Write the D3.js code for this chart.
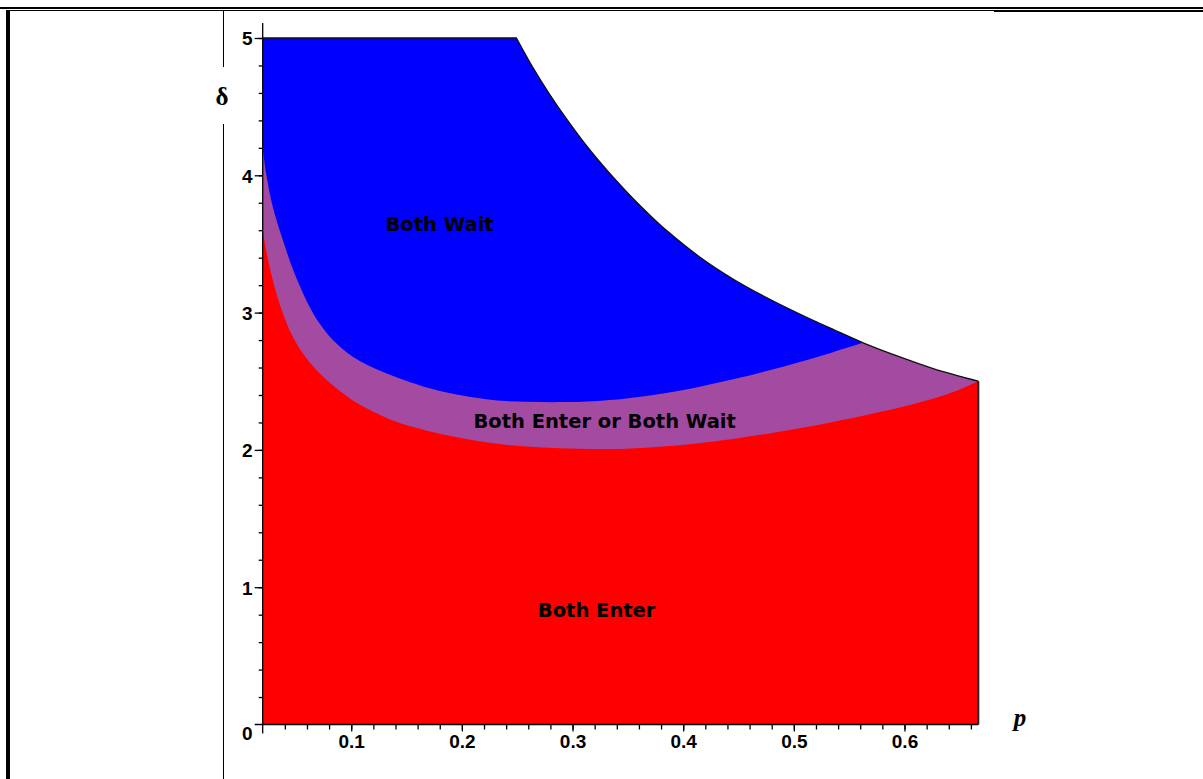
<!DOCTYPE html>
<html>
<head>
<meta charset="utf-8">
<script src="https://cdn.jsdelivr.net/npm/d3@7"></script>
<style>
  body { margin: 0; background: #fff; }
  svg { display: block; }
</style>
</head>
<body>
<div id="chart"></div>
<script>
// Region plot: equilibrium regions in (p, delta)

// Data
// upper edge of the feasible region (flat at 5, then falling)
var topP     = [0.02, 0.2493, 0.2642, 0.2793, 0.2944, 0.3094, 0.3245, 0.3396, 0.3546, 0.3697, 0.3848, 0.4149, 0.4450, 0.4752, 0.5053, 0.5354, 0.5626, 0.5958, 0.6259, 0.6667];
var topDelta = [5, 5, 4.785, 4.59, 4.412, 4.249, 4.099, 3.96, 3.831, 3.711, 3.599, 3.405, 3.245, 3.11, 2.99, 2.878, 2.78, 2.677, 2.592, 2.5];

// lower edge of "Both Wait" (meets the upper edge at p ~ 0.5626)
var waitP     = [0.02, 0.0231, 0.0291, 0.0382, 0.0487, 0.0623, 0.0713, 0.0834, 0.1014, 0.1316, 0.1768, 0.2280, 0.2582, 0.2883, 0.3185, 0.3486, 0.3848, 0.4149, 0.4450, 0.4752, 0.5053, 0.5354, 0.5626];
var waitDelta = [4.2, 4.014, 3.771, 3.529, 3.286, 3.043, 2.922, 2.800, 2.679, 2.558, 2.436, 2.363, 2.351, 2.348, 2.355, 2.375, 2.415, 2.46, 2.514, 2.574, 2.64, 2.712, 2.78];

// upper edge of "Both Enter"
var enterP     = [0.02, 0.0231, 0.0291, 0.0352, 0.0442, 0.0562, 0.0713, 0.0924, 0.1075, 0.1376, 0.1678, 0.1979, 0.2280, 0.2582, 0.2883, 0.3185, 0.3486, 0.3848, 0.4450, 0.5053, 0.5656, 0.6109, 0.6410, 0.6667];
var enterDelta = [3.614, 3.456, 3.237, 3.068, 2.873, 2.704, 2.558, 2.412, 2.33, 2.214, 2.142, 2.088, 2.048, 2.024, 2.012, 2.006, 2.009, 2.026, 2.08, 2.157, 2.254, 2.339, 2.412, 2.5];

// region labels
var regionNames = ["Both Wait", "Both Enter or Both Wait", "Both Enter"];
var regionP     = [0.1798, 0.329, 0.3218];
var regionDelta = [3.645, 2.21, 0.834];

// tick labels
var xTickVals = [0.1, 0.2, 0.3, 0.4, 0.5, 0.6];
var yTickVals = [1, 2, 3, 4, 5];
var pMin = 0.02, pMax = 0.6667;

var width = 1203, height = 779;
var tickFont = 'bold 19px "Liberation Sans", Arial, sans-serif';

var svg = d3.select('#chart')
  .append('svg')
  .attr('width', width)
  .attr('height', height);

// Table-like frame around the plot
svg.append('rect').attr('x', 0).attr('y', 7).attr('width', width).attr('height', 2).attr('fill', '#000');
svg.append('rect').attr('x', 6).attr('y', 10).attr('width', 988).attr('height', 1).attr('fill', '#000');
svg.append('rect').attr('x', 994).attr('y', 10).attr('width', width - 994).attr('height', 2).attr('fill', '#000');
svg.append('rect').attr('x', 6).attr('y', 10).attr('width', 4).attr('height', height - 10).attr('fill', '#000');
svg.append('rect').attr('x', 223).attr('y', 11).attr('width', 1).attr('height', 56).attr('fill', '#000');
svg.append('rect').attr('x', 223).attr('y', 124).attr('width', 1).attr('height', height - 124).attr('fill', '#000');

// Scales
var x_scale = d3.scaleLinear().domain([pMin, pMax]).range([262.7, 978.3]);
var y_scale = d3.scaleLinear().domain([0, 5]).range([724.5, 38]);

function pts(ps, ds) {
  return ps.map(function(p, i) { return [x_scale(p), y_scale(ds[i])]; });
}

var curve = d3.line().curve(d3.curveCatmullRom.alpha(0.5));

// continue a path with a smooth curve (drop the leading M)
function cont(points) {
  return 'L' + curve(points).slice(1);
}

var topPts = pts(topP, topDelta);
var waitPts = pts(waitP, waitDelta);
var enterPts = pts(enterP, enterDelta);

// top edge: straight flat part, then the curve from the kink
var topEdge = 'M' + topPts[0] + 'L' + topPts[1] + cont(topPts.slice(1));

// whole feasible region in purple first
var whole = 'M' + [x_scale(pMin), y_scale(0)] + topEdge.replace('M', 'L') +
  'L' + [x_scale(pMax), y_scale(0)] + 'Z';
svg.append('path').attr('d', whole).attr('fill', '#A24BA0');

// Both Wait region (blue)
var topToJoin = topPts.slice(1, 17);
var blue = 'M' + topPts[0] + 'L' + topPts[1] + cont(topToJoin) +
  cont(waitPts.slice().reverse()) + 'Z';
svg.append('path').attr('d', blue).attr('fill', '#0000FF');

// Both Enter region (red)
var red = 'M' + [x_scale(pMin), y_scale(0)] + cont(enterPts) +
  'L' + [x_scale(pMax), y_scale(0)] + 'Z';
svg.append('path').attr('d', red).attr('fill', '#FF0000');

// black outline of top and right edge
svg.append('path')
  .attr('d', topEdge)
  .attr('fill', 'none')
  .attr('stroke', '#111')
  .attr('stroke-width', 1.3);
svg.append('line')
  .attr('x1', x_scale(pMax)).attr('x2', x_scale(pMax))
  .attr('y1', y_scale(2.5)).attr('y2', y_scale(0))
  .attr('stroke', '#222').attr('stroke-width', 2);

// Axes
var minorX = d3.range(0.04, 0.665, 0.02);
var minorY = d3.range(0.2, 5.01, 0.2);

svg.append('g')
  .attr('transform', 'translate(0,' + y_scale(0) + ')')
  .call(d3.axisBottom(x_scale).tickValues(minorX).tickSize(5).tickSizeOuter(0).tickFormat(''))
  .call(function(g) { g.select('.domain').remove(); });

svg.append('g')
  .attr('transform', 'translate(0,' + y_scale(0) + ')')
  .call(d3.axisBottom(x_scale).tickValues(xTickVals).tickSize(7).tickSizeOuter(0).tickFormat(d3.format('.1f')))
  .call(function(g) { g.select('.domain').remove(); })
  .selectAll('text')
  .attr('y', 10)
  .attr('dy', '0.71em')
  .style('font', tickFont)
  .attr('fill', '#000');

svg.append('g')
  .attr('transform', 'translate(' + x_scale(pMin) + ',0)')
  .call(d3.axisLeft(y_scale).tickValues(minorY).tickSize(4).tickSizeOuter(0).tickFormat(''))
  .call(function(g) { g.select('.domain').remove(); });

svg.append('g')
  .attr('transform', 'translate(' + x_scale(pMin) + ',0)')
  .call(d3.axisLeft(y_scale).tickValues(yTickVals).tickSize(8).tickSizeOuter(0).tickFormat(d3.format('d')))
  .call(function(g) { g.select('.domain').remove(); })
  .selectAll('text')
  .attr('x', -10)
  .attr('dy', '0.36em')
  .style('font', tickFont)
  .attr('fill', '#000');

svg.selectAll('.tick line').attr('stroke', '#000').attr('stroke-width', 1.3);

// axis lines
svg.append('line')
  .attr('x1', x_scale(pMin)).attr('x2', x_scale(pMin))
  .attr('y1', y_scale(5) - 15).attr('y2', y_scale(0) + 9)
  .attr('stroke', '#000').attr('stroke-width', 1.3);
svg.append('line')
  .attr('x1', x_scale(pMin) - 8).attr('x2', x_scale(pMax))
  .attr('y1', y_scale(0)).attr('y2', y_scale(0))
  .attr('stroke', '#000').attr('stroke-width', 1.3);

// origin label sits below the axis
svg.append('text')
  .attr('x', x_scale(pMin) - 10)
  .attr('y', y_scale(0) + 9)
  .attr('dy', '0.36em')
  .attr('text-anchor', 'end')
  .style('font', tickFont)
  .text('0');

// axis titles
svg.append('text')
  .attr('x', 222).attr('y', 96)
  .attr('dy', '0.35em')
  .attr('text-anchor', 'middle')
  .style('font', 'bold 25px "Liberation Serif", "Times New Roman", serif')
  .text('δ');

svg.append('text')
  .attr('x', 1020).attr('y', 721)
  .attr('dy', '0.2em')
  .attr('text-anchor', 'middle')
  .style('font', 'italic bold 25px "Liberation Serif", "Times New Roman", serif')
  .text('p');

// region labels
svg.selectAll('.region')
  .data(regionNames)
  .enter()
  .append('text')
  .attr('class', 'region')
  .attr('x', function(d, i) { return x_scale(regionP[i]); })
  .attr('y', function(d, i) { return y_scale(regionDelta[i]); })
  .attr('dy', '0.36em')
  .attr('text-anchor', 'middle')
  .style('font', 'bold 19.5px "DejaVu Sans", Verdana, sans-serif')
  .attr('fill', '#000')
  .text(function(d) { return d; });
</script>
</body>
</html>
